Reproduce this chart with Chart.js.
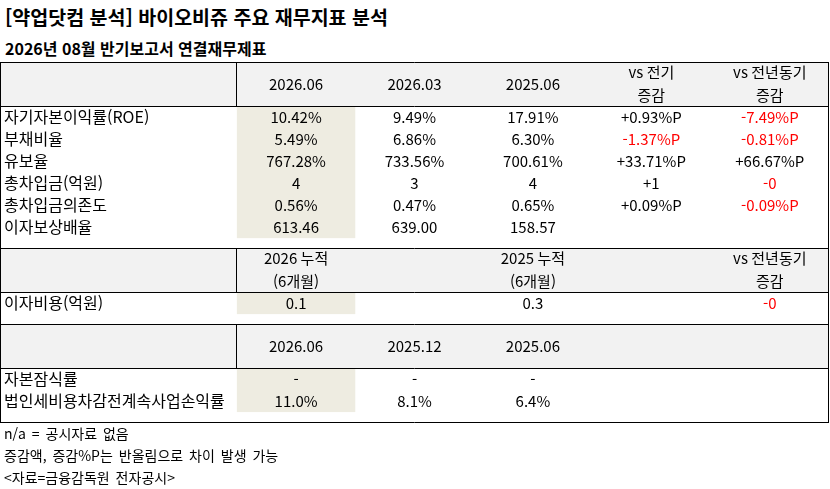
<!DOCTYPE html>
<html lang="ko">
<head>
    <meta charset="UTF-8">
    <title>바이오비쥬 주요 재무지표 분석</title>
    <style>
        body {
            margin: 0;
            background: #fff;
            color: #000;
            font-family: "Noto Sans CJK KR", "Noto Sans", sans-serif;
            width: 830px;
            height: 489px;
            overflow: hidden;
            position: relative;
        }
        .title {
            position: absolute; left: 5px; top: 4px;
            font-size: 19.5px; font-weight: bold; line-height: 26px;
        }
        .subtitle {
            position: absolute; left: 5px; top: 37px;
            font-size: 16px; font-weight: bold; line-height: 22px;
        }
        .notes {
            position: absolute; left: 4px; top: 422px;
            font-size: 14px; line-height: 22px; word-spacing: 2px;
        }
        canvas { position: absolute; left: 0; top: 0; }
    </style>
    <script src="https://cdn.jsdelivr.net/npm/chart.js"></script>
</head>
<body>
    <div class="title">[약업닷컴 분석] 바이오비쥬 주요 재무지표 분석</div>
    <div class="subtitle">2026년 08월 반기보고서 연결재무제표</div>
    <canvas id="table" width="830" height="489"></canvas>
    <div class="notes">
        <div>n/a = 공시자료 없음</div>
        <div>증감액, 증감%P는 반올림으로 차이 발생 가능</div>
        <div>&lt;자료=금융감독원 전자공시&gt;</div>
    </div>

    <script>
        // Section 1: 주요 지표
        const periods1 = ['2026.06', '2026.03', '2025.06'];
        const rowLabels1 = ['자기자본이익률(ROE)', '부채비율', '유보율', '총차입금(억원)', '총차입금의존도', '이자보상배율'];
        const cur1 = ['10.42%', '5.49%', '767.28%', '4', '0.56%', '613.46'];
        const prevQ1 = ['9.49%', '6.86%', '733.56%', '3', '0.47%', '639.00'];
        const prevY1 = ['17.91%', '6.30%', '700.61%', '4', '0.65%', '158.57'];
        const diffQ1 = ['+0.93%P', '-1.37%P', '+33.71%P', '+1', '+0.09%P', ''];
        const diffY1 = ['-7.49%P', '-0.81%P', '+66.67%P', '-0', '-0.09%P', ''];

        // Section 2: 누적 이자비용
        const periods2 = ['2026 누적\n(6개월)', '2025 누적\n(6개월)'];
        const rowLabels2 = ['이자비용(억원)'];
        const cur2 = ['0.1'];
        const prevY2 = ['0.3'];
        const diffY2 = ['-0'];

        // Section 3
        const periods3 = ['2026.06', '2025.12', '2025.06'];
        const rowLabels3 = ['자본잠식률', '법인세비용차감전계속사업손익률'];
        const cur3 = ['-', '11.0%'];
        const prevQ3 = ['-', '8.1%'];
        const prevY3 = ['-', '6.4%'];

        const diffQHead = 'vs 전기\n증감';
        const diffYHead = 'vs 전년동기\n증감';

        // col index 0..4 = data columns after the label column
        const sections = [
            {
                heads: [[0, periods1[0]], [1, periods1[1]], [2, periods1[2]], [3, diffQHead], [4, diffYHead]],
                rows: rowLabels1,
                cells: [[0, cur1], [1, prevQ1], [2, prevY1], [3, diffQ1], [4, diffY1]]
            },
            {
                heads: [[0, periods2[0]], [2, periods2[1]], [4, diffYHead]],
                rows: rowLabels2,
                cells: [[0, cur2], [2, prevY2], [4, diffY2]]
            },
            {
                heads: [[0, periods3[0]], [1, periods3[1]], [2, periods3[2]]],
                rows: rowLabels3,
                cells: [[0, cur3], [1, prevQ3], [2, prevY3]]
            }
        ];

        const HEAD_UNITS = 2;     // header height in row units
        const GAP_UNITS = 0.45;   // blank space under each section
        const LABEL_UNITS = 2;    // label column width in column units

        let offset = 0;
        sections.forEach(s => {
            s.top = offset;
            s.bodyTop = offset + HEAD_UNITS;
            s.bodyEnd = s.bodyTop + s.rows.length;
            s.end = s.bodyEnd + GAP_UNITS;
            offset = s.end;
        });
        const totalUnits = offset;

        const font = '15px "Noto Sans CJK KR", "Noto Sans", sans-serif';
        const labelFont = '16px "Noto Sans CJK KR", "Noto Sans", sans-serif';

        const tablePlugin = {
            id: 'tablePlugin',
            afterDraw(chart) {
                const { ctx, scales: { x, y } } = chart;
                const px = v => x.getPixelForValue(v);
                const py = v => y.getPixelForValue(v);
                const crisp = v => Math.round(v) + 0.5;
                const left = px(0), right = px(LABEL_UNITS + 5);

                ctx.save();
                // fills
                sections.forEach(s => {
                    ctx.fillStyle = '#F2F2F2';
                    ctx.fillRect(left, py(s.top), right - left, py(s.bodyTop) - py(s.top));
                    ctx.fillStyle = '#EEECE1';
                    ctx.fillRect(px(LABEL_UNITS), py(s.bodyTop), px(LABEL_UNITS + 1) - px(LABEL_UNITS), py(s.bodyEnd) - py(s.bodyTop));
                });

                // lines
                ctx.strokeStyle = '#000';
                ctx.lineWidth = 1;
                ctx.beginPath();
                sections.forEach(s => {
                    [s.top, s.bodyTop].forEach(v => {
                        ctx.moveTo(left, crisp(py(v)));
                        ctx.lineTo(right, crisp(py(v)));
                    });
                    ctx.moveTo(crisp(px(LABEL_UNITS)) - 1, crisp(py(s.top)));
                    ctx.lineTo(crisp(px(LABEL_UNITS)) - 1, crisp(py(s.bodyTop)));
                });
                ctx.moveTo(left, crisp(py(totalUnits)));
                ctx.lineTo(right, crisp(py(totalUnits)));
                ctx.moveTo(crisp(left), crisp(py(0)));
                ctx.lineTo(crisp(left), crisp(py(totalUnits)));
                ctx.moveTo(crisp(right) - 1, crisp(py(0)));
                ctx.lineTo(crisp(right) - 1, crisp(py(totalUnits)));
                ctx.stroke();

                // text
                ctx.textBaseline = 'middle';
                const colX = c => px(LABEL_UNITS + c + 0.5);
                sections.forEach(s => {
                    ctx.font = font;
                    ctx.fillStyle = '#000';
                    ctx.textAlign = 'center';
                    s.heads.forEach(([c, txt]) => {
                        const lines = txt.split('\n');
                        const mid = s.top + HEAD_UNITS / 2;
                        lines.forEach((ln, i) => {
                            const dy = lines.length === 1 ? 0 : (i === 0 ? -0.52 : 0.52);
                            ctx.fillText(ln, colX(c), py(mid + dy));
                        });
                    });
                    ctx.font = labelFont;
                    ctx.textAlign = 'left';
                    s.rows.forEach((lbl, r) => {
                        ctx.fillText(lbl, left + 4, py(s.bodyTop + r + 0.5));
                    });
                    ctx.font = font;
                    ctx.textAlign = 'center';
                    s.cells.forEach(([c, vals]) => {
                        vals.forEach((v, r) => {
                            ctx.fillStyle = (v.startsWith('-') && v.length > 1) ? '#FF0000' : '#000';
                            ctx.fillText(v, colX(c), py(s.bodyTop + r + 0.5));
                        });
                    });
                });
                ctx.restore();
            }
        };

        new Chart(document.getElementById('table'), {
            type: 'scatter',
            data: { datasets: [{ data: [] }] },
            options: {
                responsive: false,
                animation: false,
                events: [],
                layout: { padding: { top: 62, bottom: 67, left: 0, right: 1 } },
                plugins: { legend: { display: false }, tooltip: { enabled: false } },
                scales: {
                    x: { type: 'linear', min: 0, max: LABEL_UNITS + 5, display: false },
                    y: { type: 'linear', min: 0, max: totalUnits, reverse: true, display: false }
                }
            },
            plugins: [tablePlugin]
        });
    </script>
</body>
</html>
